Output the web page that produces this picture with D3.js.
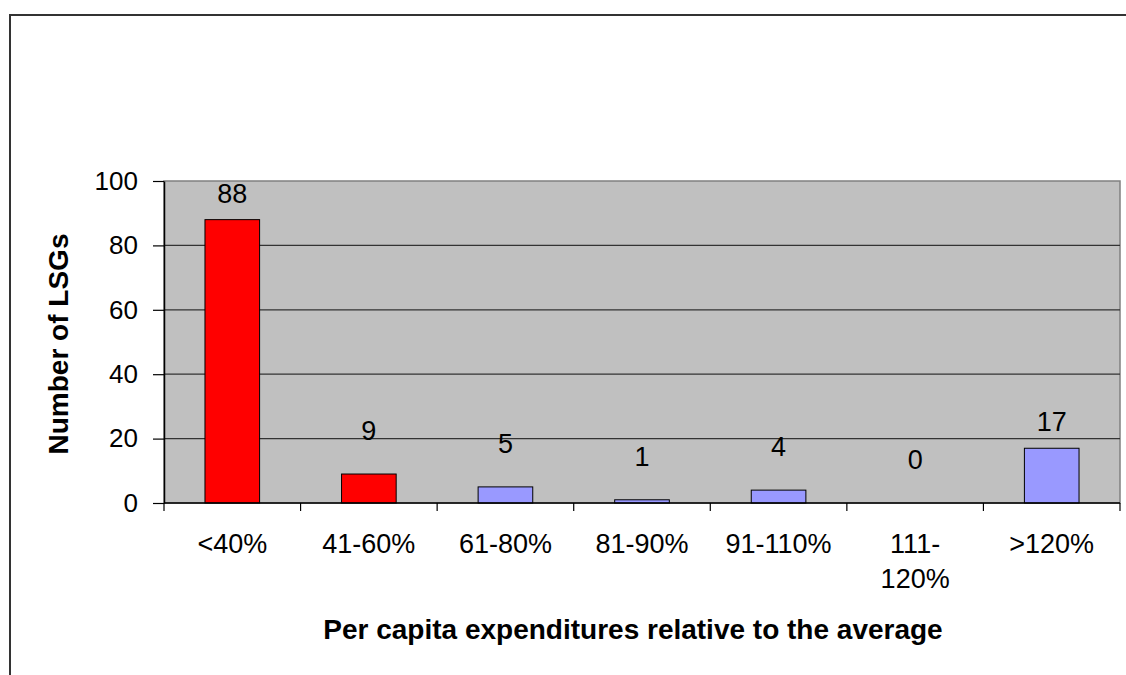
<!DOCTYPE html>
<html>
<head>
<meta charset="utf-8">
<script src="https://cdn.jsdelivr.net/npm/d3@7"></script>
<style>
  body { margin: 0; background: #fff; overflow: hidden; }
  svg { display: block; }
  svg text { font-family: "Liberation Sans", Arial, sans-serif; fill: #000; }
</style>
</head>
<body>
<svg id="drawing_region"></svg>
<script>
const categories = ['<40%', '41-60%', '61-80%', '81-90%', '91-110%', '111-120%', '>120%'];
const values = [88, 9, 5, 1, 4, 0, 17];
const barColors = ['#FF0000', '#FF0000', '#9999FF', '#9999FF', '#9999FF', '#9999FF', '#9999FF'];
const yTicks = [0, 20, 40, 60, 80, 100];

const width = 1126, height = 675;
const margin = {top: 181, right: 6, bottom: 172, left: 164};
const innerWidth = width - margin.left - margin.right;
const innerHeight = height - margin.top - margin.bottom;

const svg = d3.select('#drawing_region')
    .attr('width', width)
    .attr('height', height);

// outer chart frame (right and bottom edges fall outside the picture)
svg.append('path')
    .attr('d', d3.line()([[10, height], [10, 15], [width, 15]]))
    .attr('fill', 'none')
    .attr('stroke', '#333')
    .attr('stroke-width', 2);

const chart = svg.append('g')
    .attr('transform', `translate(${margin.left}, ${margin.top})`);

const xscale = d3.scaleBand()
    .domain(categories)
    .range([0, innerWidth])
    .paddingInner(0.6)
    .paddingOuter(0.3);

const yscale = d3.scaleLinear()
    .domain([0, 100])
    .range([innerHeight, 0]);

// plot background
chart.append('rect')
    .attr('width', innerWidth)
    .attr('height', innerHeight)
    .attr('fill', '#C0C0C0')
    .attr('stroke', '#808080')
    .attr('stroke-width', 1.5);

// gridlines
chart.append('g')
    .selectAll('line')
    .data(yTicks.filter(d => d > 0 && d < 100))
    .join('line')
    .attr('x1', 0).attr('x2', innerWidth)
    .attr('y1', d => yscale(d)).attr('y2', d => yscale(d))
    .attr('stroke', '#333')
    .attr('stroke-width', 1.2);

// bars
chart.append('g')
    .selectAll('rect')
    .data(values)
    .join('rect')
    .attr('x', (d, i) => xscale(categories[i]))
    .attr('y', d => yscale(d))
    .attr('width', xscale.bandwidth())
    .attr('height', d => innerHeight - yscale(d))
    .attr('fill', (d, i) => barColors[i])
    .attr('stroke', '#000')
    .attr('stroke-width', 1);

// data labels (short bars get their label lifted higher, as in the original)
chart.append('g')
    .selectAll('text')
    .data(values)
    .join('text')
    .attr('x', (d, i) => xscale(categories[i]) + xscale.bandwidth() / 2)
    .attr('y', d => yscale(d) - (d < 10 ? 34 : 17))
    .attr('text-anchor', 'middle')
    .style('font-size', '27px')
    .text(d => d);

// y axis
const yaxis = d3.axisLeft(yscale)
    .tickValues(yTicks)
    .tickSize(11)
    .tickSizeOuter(0);
const yaxis_group = chart.append('g').call(yaxis);
yaxis_group.select('.domain').attr('stroke', '#000').attr('stroke-width', 1.5);
yaxis_group.selectAll('.tick line').attr('stroke', '#000').attr('stroke-width', 1.2);
yaxis_group.selectAll('.tick text')
    .attr('x', -26)
    .style('font-size', '26px')
    .style('font-family', '"Liberation Sans", Arial, sans-serif')
    .attr('fill', '#000');

// x axis with ticks at category boundaries
const xaxis_group = chart.append('g')
    .attr('transform', `translate(0, ${innerHeight})`);
xaxis_group.append('line')
    .attr('x1', 0).attr('x2', innerWidth)
    .attr('stroke', '#000').attr('stroke-width', 1.5);
xaxis_group.selectAll('.bnd')
    .data(d3.range(categories.length + 1))
    .join('line')
    .attr('class', 'bnd')
    .attr('x1', i => i * xscale.step())
    .attr('x2', i => i * xscale.step())
    .attr('y1', 0).attr('y2', 8)
    .attr('stroke', '#000').attr('stroke-width', 1.2);

const catLabels = xaxis_group.selectAll('.cat')
    .data(categories)
    .join('text')
    .attr('class', 'cat')
    .attr('text-anchor', 'middle')
    .attr('x', d => xscale(d) + xscale.bandwidth() / 2)
    .attr('y', 50)
    .style('font-size', '27px');
catLabels.each(function(d) {
    const t = d3.select(this);
    if (d === '111-120%') {
        t.append('tspan').attr('x', t.attr('x')).text('111-');
        t.append('tspan').attr('x', t.attr('x')).attr('dy', 35).text('120%');
    } else {
        t.text(d);
    }
});

// axis titles
svg.append('text')
    .attr('x', 633)
    .attr('y', 639)
    .attr('text-anchor', 'middle')
    .style('font-size', '28px')
    .style('font-weight', 'bold')
    .text('Per capita expenditures relative to the average');

svg.append('text')
    .attr('transform', `translate(68, 344) rotate(-90)`)
    .attr('text-anchor', 'middle')
    .style('font-size', '28px')
    .style('font-weight', 'bold')
    .text('Number of LSGs');
</script>
</body>
</html>
